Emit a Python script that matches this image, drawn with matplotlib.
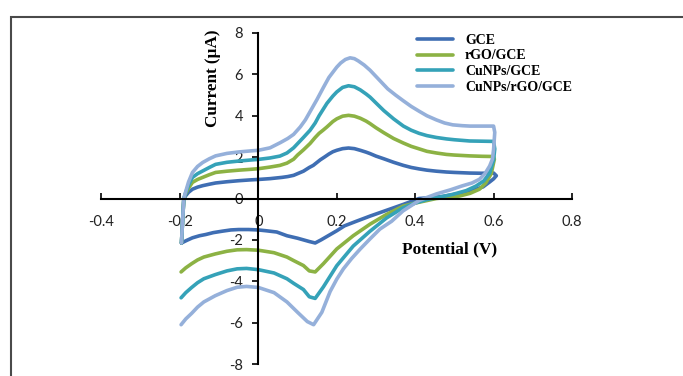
import matplotlib.pyplot as plt
from matplotlib.patches import Rectangle

# potential (V) and current (uA), forward scan then reverse scan
gce_x = [-0.196, -0.193, -0.19, -0.185, -0.178, -0.168, -0.155, -0.142, -0.125, -0.109, -0.08, -0.05,
         -0.02, 0, 0.03, 0.06, 0.075, 0.09, 0.1, 0.115, 0.13, 0.14, 0.15, 0.158, 0.17, 0.18, 0.19, 0.2,
         0.215, 0.23, 0.245, 0.26, 0.275, 0.285, 0.3, 0.32, 0.345, 0.37, 0.39, 0.41, 0.43, 0.454, 0.48,
         0.5, 0.539, 0.57, 0.6,
         0.607, 0.6, 0.59, 0.573, 0.55, 0.53, 0.5, 0.471, 0.44, 0.41, 0.369, 0.33, 0.285, 0.25, 0.22,
         0.2, 0.18, 0.16, 0.145, 0.13, 0.1, 0.073, 0.047, 0.02, 0, -0.025, -0.05, -0.07, -0.092, -0.115,
         -0.134, -0.15, -0.168, -0.182, -0.196]
gce_y = [-2.15, -1.0, 0.0, 0.14, 0.3, 0.45, 0.55, 0.62, 0.69, 0.75, 0.81, 0.86,
         0.9, 0.92, 0.96, 1.02, 1.06, 1.12, 1.2, 1.32, 1.5, 1.6, 1.75, 1.87, 2.02, 2.15, 2.26, 2.33,
         2.41, 2.44, 2.41, 2.33, 2.24, 2.17, 2.05, 1.92, 1.75, 1.6, 1.5, 1.43, 1.37, 1.32, 1.28,
         1.26, 1.23, 1.22, 1.23,
         1.1, 0.95, 0.8, 0.56, 0.42, 0.3, 0.2, 0.1, 0.04, 0.0, -0.29, -0.55, -0.85, -1.1, -1.32,
         -1.56, -1.78, -2.0, -2.15, -2.08, -1.92, -1.8, -1.62, -1.56, -1.52, -1.5, -1.5, -1.52, -1.58, -1.65,
         -1.74, -1.8, -1.9, -2.02, -2.15]

rgo_x = [-0.196, -0.193, -0.19, -0.185, -0.178, -0.168, -0.155, -0.142, -0.125, -0.109, -0.08, -0.05,
         -0.02, 0, 0.03, 0.055, 0.073, 0.09, 0.1, 0.115, 0.132, 0.145, 0.155, 0.165, 0.175, 0.19, 0.2,
         0.215, 0.23, 0.245, 0.26, 0.275, 0.285, 0.3, 0.32, 0.345, 0.37, 0.39, 0.41, 0.43, 0.454, 0.48,
         0.5, 0.539, 0.57, 0.6,
         0.602, 0.598, 0.594, 0.58, 0.564, 0.54, 0.513, 0.48, 0.454, 0.43, 0.4, 0.369, 0.327, 0.285,
         0.242, 0.2, 0.166, 0.145, 0.13, 0.115, 0.09, 0.073, 0.04, 0, -0.03, -0.054, -0.08, -0.11,
         -0.139, -0.155, -0.17, -0.185, -0.197]
rgo_y = [-2.15, -1.0, 0.0, 0.25, 0.5, 0.78, 0.92, 1.02, 1.15, 1.26, 1.32, 1.37,
         1.41, 1.44, 1.52, 1.6, 1.71, 1.9, 2.1, 2.35, 2.66, 2.95, 3.15, 3.3, 3.46, 3.72, 3.85,
         3.98, 4.02, 3.98, 3.88, 3.74, 3.62, 3.42, 3.18, 2.9, 2.68, 2.52, 2.4, 2.28, 2.2, 2.13,
         2.1, 2.06, 2.04, 2.03,
         1.9, 1.55, 1.2, 0.75, 0.45, 0.25, 0.12, 0.05, 0.0, -0.1, -0.22, -0.37, -0.77, -1.24,
         -1.8, -2.44, -3.15, -3.55, -3.5, -3.24, -3.0, -2.83, -2.62, -2.5, -2.47, -2.48, -2.55, -2.68,
         -2.83, -2.97, -3.15, -3.35, -3.55]

cunp_x = [-0.196, -0.193, -0.19, -0.185, -0.178, -0.168, -0.155, -0.142, -0.125, -0.109, -0.08, -0.05,
          -0.02, 0, 0.03, 0.055, 0.073, 0.09, 0.1, 0.115, 0.132, 0.145, 0.155, 0.165, 0.175, 0.19, 0.2,
          0.215, 0.23, 0.245, 0.26, 0.275, 0.285, 0.3, 0.32, 0.345, 0.37, 0.39, 0.41, 0.43, 0.454, 0.48,
          0.5, 0.539, 0.57, 0.6,
          0.603, 0.6, 0.59, 0.575, 0.555, 0.53, 0.496, 0.46, 0.43, 0.4, 0.369, 0.327, 0.285, 0.242,
          0.2, 0.166, 0.145, 0.13, 0.115, 0.09, 0.073, 0.04, 0, -0.03, -0.054, -0.08, -0.11, -0.139,
          -0.155, -0.17, -0.185, -0.197]
cunp_y = [-2.15, -1.0, 0.0, 0.3, 0.65, 1.02, 1.2, 1.33, 1.5, 1.65, 1.75, 1.81,
          1.86, 1.89, 1.96, 2.05, 2.2, 2.45, 2.65, 2.95, 3.3, 3.65, 4.0, 4.3, 4.6, 4.95, 5.15,
          5.37, 5.45, 5.4, 5.25, 5.05, 4.9, 4.62, 4.25, 3.85, 3.5, 3.3, 3.15, 3.04, 2.95, 2.88,
          2.84, 2.78, 2.77, 2.76,
          2.4, 1.87, 1.23, 0.85, 0.6, 0.38, 0.2, 0.06, -0.05, -0.22, -0.45, -0.94, -1.58, -2.3,
          -3.25, -4.27, -4.83, -4.75, -4.4, -4.1, -3.88, -3.6, -3.44, -3.38, -3.4, -3.5, -3.68, -3.88,
          -4.07, -4.3, -4.55, -4.8]

cunp_rgo_x = [-0.196, -0.193, -0.19, -0.185, -0.178, -0.168, -0.155, -0.142, -0.125, -0.109, -0.08,
              -0.05, -0.02, 0, 0.03, 0.056, 0.075, 0.09, 0.107, 0.12, 0.132, 0.15, 0.166, 0.18, 0.19,
              0.2, 0.21, 0.222, 0.234, 0.245, 0.255, 0.27, 0.285, 0.3, 0.315, 0.33, 0.35, 0.37, 0.39,
              0.41, 0.43, 0.454, 0.475, 0.496, 0.52, 0.54, 0.57, 0.6,
              0.603, 0.6, 0.597, 0.59, 0.578, 0.564, 0.545, 0.52, 0.49, 0.454, 0.43, 0.41, 0.369, 0.34,
              0.31, 0.285, 0.26, 0.238, 0.217, 0.2, 0.183, 0.162, 0.141, 0.125, 0.1, 0.073, 0.04, 0,
              -0.03, -0.054, -0.08, -0.11, -0.139, -0.155, -0.17, -0.185, -0.197]
cunp_rgo_y = [-2.15, -1.0, 0.0, 0.35, 0.8, 1.26, 1.55, 1.74, 1.92, 2.06, 2.18,
              2.25, 2.3, 2.33, 2.45, 2.7, 2.9, 3.1, 3.46, 3.8, 4.2, 4.8, 5.37, 5.85, 6.1,
              6.35, 6.55, 6.72, 6.8, 6.76, 6.65, 6.45, 6.2, 5.9, 5.6, 5.3, 5.0, 4.72, 4.45,
              4.22, 4.0, 3.8, 3.65, 3.56, 3.52, 3.5, 3.5, 3.5,
              3.2, 2.37, 1.9, 1.57, 1.2, 0.93, 0.75, 0.61, 0.42, 0.22, 0.05, -0.1, -0.6, -1.1,
              -1.48, -1.95, -2.44, -2.9, -3.4, -3.9, -4.5, -5.5, -6.1, -5.95, -5.5, -5.0, -4.55, -4.3,
              -4.25, -4.29, -4.45, -4.7, -5.0, -5.25, -5.55, -5.82, -6.1]

labels = ['GCE', 'rGO/GCE', 'CuNPs/GCE', 'CuNPs/rGO/GCE']
colors = ['#3f6eb3', '#8cb244', '#35a2b8', '#95b0da']

x_ticks = [-0.4, -0.2, 0, 0.2, 0.4, 0.6, 0.8]
x_tick_labels = ['-0.4', '-0.2', '0', '0.2', '0.4', '0.6', '0.8']
y_ticks = [-8, -6, -4, -2, 0, 2, 4, 6, 8]

fig = plt.figure(figsize=(6.83, 3.76), dpi=100)
ax = fig.add_axes([101.5 / 683, 1 - 364 / 376, 470.5 / 683, 331 / 376])

curves = [(gce_x, gce_y), (rgo_x, rgo_y), (cunp_x, cunp_y), (cunp_rgo_x, cunp_rgo_y)]
for (xs, ys), lab, col in zip(curves, labels, colors):
    ax.plot(xs, ys, color=col, linewidth=2.6, label=lab,
            solid_joinstyle='round', solid_capstyle='round')

ax.set_xlim(-0.4, 0.8)
ax.set_ylim(-8, 8)
ax.spines['top'].set_visible(False)
ax.spines['right'].set_visible(False)
ax.spines['left'].set_position(('data', 0))
ax.spines['bottom'].set_position(('data', 0))
ax.spines['left'].set_linewidth(1.5)
ax.spines['bottom'].set_linewidth(1.5)

ax.set_xticks(x_ticks)
ax.set_xticklabels(x_tick_labels)
ax.set_yticks(y_ticks)
ax.set_yticklabels([str(v) for v in y_ticks])
ax.tick_params(axis='x', direction='in', length=4, width=1.2, pad=12, labelsize=10.5)
ax.tick_params(axis='y', direction='out', length=4, width=1.2, pad=7, labelsize=10.5)
ax.tick_params(axis='both', color='black', labelcolor='#222222')
for t in ax.get_xticklabels() + ax.get_yticklabels():
    t.set_fontfamily('Lato')

ax.set_xlabel('Potential (V)', fontfamily='Liberation Serif', fontweight='bold', fontsize=12.5)
ax.xaxis.set_label_coords(0.739, 0.369)
ax.set_ylabel('Current (\u00b5A)', fontfamily='Liberation Serif', fontweight='bold', fontsize=12.3)
ax.yaxis.set_label_coords(0.254, 0.862)

ax.legend(loc='upper left', bbox_to_anchor=(0.6705, 0.998), frameon=False,
          prop={'family': 'Liberation Serif', 'weight': 'bold', 'size': 10},
          handlelength=2.6, handletextpad=0.85, labelspacing=0.2, borderpad=0, borderaxespad=0)

fig.patches.append(Rectangle((11 / 683, -0.2), 1.2, 0.2 + 1 - 16.5 / 376, transform=fig.transFigure,
                             fill=False, edgecolor='#4a4a4a', linewidth=1.5, clip_on=False))

plt.savefig('out.png', dpi=100)
